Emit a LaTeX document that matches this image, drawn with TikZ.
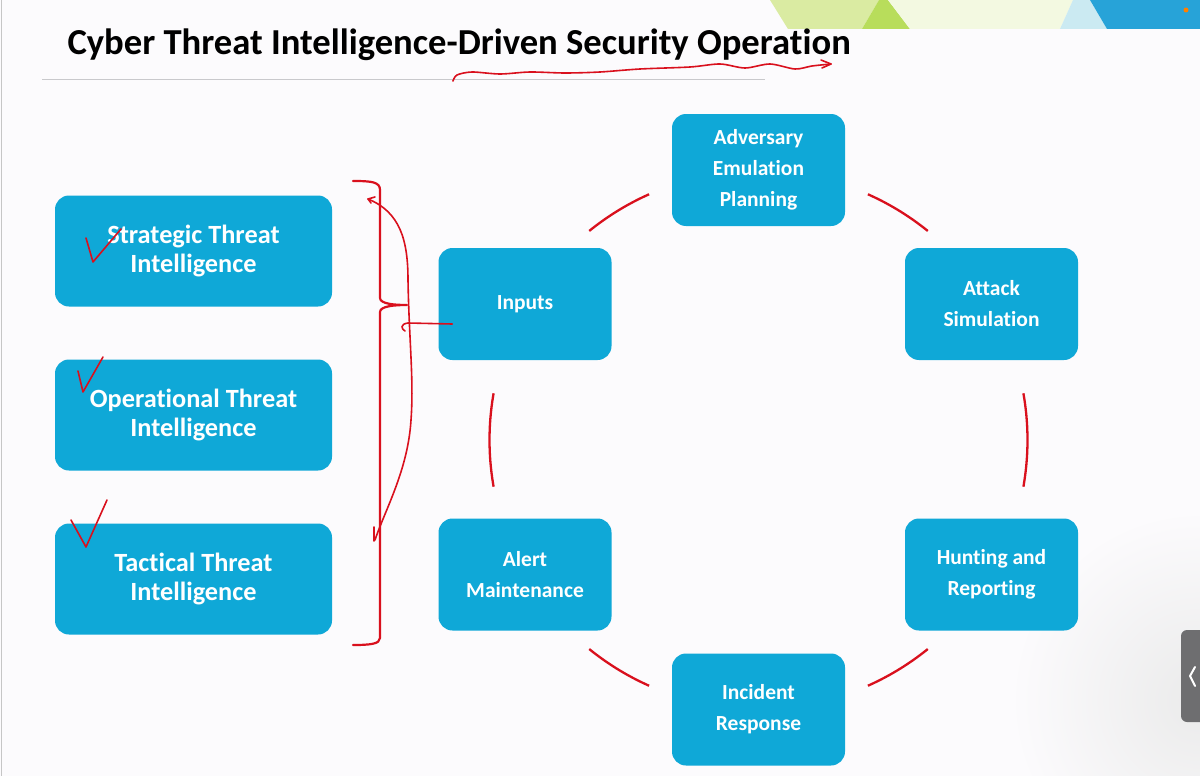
\documentclass[tikz,border=0pt]{standalone}
\usepackage{fontspec}
\setmainfont{Carlito}[Ligatures=NoCommon]
\usetikzlibrary{arrows.meta, positioning, calc}
\definecolor{boxblue}{HTML}{0FA8D7}
\definecolor{penred}{HTML}{D9101D}
\definecolor{rulegray}{HTML}{C9C9CC}
\definecolor{paper}{HTML}{FCFBFD}
\definecolor{bandA}{HTML}{DAEBA2}
\definecolor{bandB}{HTML}{B8DD5B}
\definecolor{bandC}{HTML}{F3F9E1}
\definecolor{bandD}{HTML}{CBEAF2}
\definecolor{bandE}{HTML}{27A3D8}
\definecolor{tabgray}{HTML}{6E6E70}

\begin{document}
\begin{tikzpicture}[x=1pt, y=-1pt,
    every node/.style={font=\bfseries},
    bigbox/.style={fill=boxblue, rounded corners=14pt, minimum width=277pt,
        minimum height=111pt, text=white, align=center,
        font=\bfseries\fontsize{26.3}{29}\selectfont},
    cyclebox/.style={fill=boxblue, rounded corners=14pt, minimum width=173pt,
        minimum height=112pt, text=white, align=center,
        font=\bfseries\fontsize{21.5}{31}\selectfont},
    ring/.style={penred, line width=2.3pt},
    ink/.style={penred, line width=1.6pt, line cap=round, line join=round},
]
\useasboundingbox (0,0) rectangle (1200,776);
\fill[paper] (0,0) rectangle (1200,776);
\begin{scope}
    \clip (0,0) rectangle (1200,776);
    \shade[inner color=gray!16, outer color=paper] (1200,700) circle (190);
\end{scope}
\draw[gray!45, line width=1.5pt] (1.5,0) -- (1.5,776);

% ---------------- top band and title
\fill[bandA] (770,0) -- (879,0) -- (862,29) -- (788,29) -- cycle;
\fill[bandB] (879,0) -- (888,0) -- (910,29) -- (862,29) -- cycle;
\fill[bandC] (888,0) -- (1073,0) -- (1060,29) -- (910,29) -- cycle;
\fill[bandD] (1073,0) -- (1090,0) -- (1107,29) -- (1060,29) -- cycle;
\fill[bandE] (1090,0) -- (1200,0) -- (1200,29) -- (1107,29) -- cycle;
\fill[orange] (1186,10) circle (2.5);
\node[anchor=base west, font=\bfseries\fontsize{36.6}{42}\selectfont] (title)
    at (64,55) {Cyber Threat Intelligence-Driven Security Operation};
\draw[rulegray, line width=1pt] (42,80) -- (765,80);

% ---------------- left: kinds of intelligence
\node[bigbox] (strat) at (193.5,251) {Strategic Threat\\Intelligence};
\node[bigbox] (oper) at (193.5,415) {Operational Threat\\Intelligence};
\node[bigbox] (tact) at (193.5,579) {Tactical Threat\\Intelligence};

% ---------------- right: the cycle
\coordinate (hub) at (758.5,440);
\node[cyclebox] (inputs) at (525,304) {Inputs};
\node[cyclebox] (advers) at (758.5,170) {Adversary\\Emulation\\Planning};
\node[cyclebox] (attack) at (991.5,304) {Attack\\Simulation};
\node[cyclebox] (hunt) at (991.5,574.5) {Hunting and\\Reporting};
\node[cyclebox] (incid) at (758.5,709.5) {Incident\\Response};
\node[cyclebox] (alert) at (525,574.5) {Alert\\Maintenance};
\foreach \a/\b in {170/190, 114/129, 51/66, -10/10, 231/246, 294/309}{
    \draw[ring] plot[domain=\a:\b, samples=24]
        ({758.5+269*cos(\x)}, {440-269*sin(\x)});
}

% ---------------- pen notes
\draw[ink] plot[smooth] coordinates {(453,81) (457,75) (472,72) (500,74)
    (530,72) (565,73) (600,72) (640,69) (690,67) (720,64) (745,68)
    (770,64) (795,69) (812,66) (831,64)};
\draw[ink] (821,60) -- (831,64) -- (822,68);
\draw[ink, line width=2.2pt] (353,181) .. controls (372,181) and (380,182) .. (380,190)
    -- (380,298) .. controls (380,304) and (395,305) .. (407,305)
    .. controls (395,305) and (380,306) .. (380,312)
    -- (380,638) .. controls (380,644) and (370,645) .. (353,645);
\draw[ink] (368,199) .. controls (400,212) and (408,240) .. (408,280)
    .. controls (409,340) and (414,380) .. (411,420)
    .. controls (408,470) and (385,510) .. (375,540);
\draw[ink] (375,197) -- (368,199) -- (371,203);
\draw[ink] (374,527) -- (374,541);
\draw[ink] ($(inputs.west)+(14,20)$) -- (408,323)
    .. controls (400,324) and (401,329) .. (405,331);
\draw[ink] (86,238) -- (93,262) -- (121,229);
\draw[ink] (78,371) -- (83,392) -- (103,357);
\draw[ink] (71,520) -- (86,547) -- (107,500);

% ---------------- side tab
\fill[tabgray, rounded corners=6pt] (1181,630) rectangle (1212,722);
\draw[white, line width=2pt, line cap=round] (1195,667) -- (1190,676) -- (1195,686);

\end{tikzpicture}
\end{document}
